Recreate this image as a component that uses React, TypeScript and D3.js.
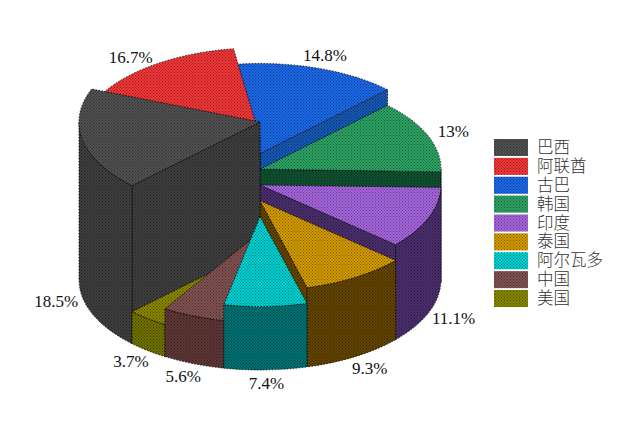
import * as d3 from 'd3';

const countries = ['巴西', '阿联酋', '古巴', '韩国', '印度', '泰国', '阿尔瓦多', '中国', '美国'];
const shares = [18.5, 16.7, 14.8, 13, 11.1, 9.3, 7.4, 5.6, 3.7];
const shareLabels = ['18.5%', '16.7%', '14.8%', '13%', '11.1%', '9.3%', '7.4%', '5.6%', '3.7%'];
const topColors = ['#505050', '#f03636', '#1a68e8', '#2ca262', '#a464dc', '#d09a00', '#00d0d0', '#805050', '#868600'];
const wallColors = ['#3e3e3e', '#902020', '#1458b4', '#0e5030', '#4a2e6c', '#624400', '#007070', '#5e3636', '#707000'];
// back to front
const drawOrder = [2, 1, 3, 4, 5, 0, 8, 7, 6];

const width = 640;
const height = 426;
const cx = 260;
const rx = 181;
const ry = 90;
const baseY = 280;
const deg = Math.PI / 180;

// each slice stands a step higher, going round from the last one to the first
const topY = d3.scalePoint<string>().domain(countries).range([122, 248]);
const legendY = d3.scalePoint<string>().domain(countries).range([139, 290]);

const arcs = d3
  .pie<number>()
  .sort(null)
  .startAngle(-135 * deg)
  .endAngle(225 * deg)(shares);

const px = (a: number) => cx + rx * Math.sin(a);
const py = (a: number, y0: number) => y0 - ry * Math.cos(a);

const topPath = (a0: number, a1: number, y0: number) =>
  `M${cx},${y0}L${px(a0)},${py(a0, y0)}A${rx},${ry} 0 0 1 ${px(a1)},${py(a1, y0)}Z`;

const flatWall = (a: number, y0: number) =>
  `M${cx},${y0}L${px(a)},${py(a, y0)}L${px(a)},${py(a, baseY)}L${cx},${baseY}Z`;

const curvedWall = (a0: number, a1: number, y0: number) =>
  `M${px(a0)},${py(a0, y0)}A${rx},${ry} 0 0 1 ${px(a1)},${py(a1, y0)}` +
  `L${px(a1)},${py(a1, baseY)}A${rx},${ry} 0 0 0 ${px(a0)},${py(a0, baseY)}Z`;

// part of the rim that faces the viewer
const frontRange = (a0: number, a1: number): [number, number] | null => {
  for (const [lo, hi] of [[90 * deg, 270 * deg], [-270 * deg, -90 * deg]]) {
    const s = Math.max(a0, lo);
    const e = Math.min(a1, hi);
    if (e > s) return [s, e];
  }
  return null;
};

const lineStyle = { stroke: '#000', strokeWidth: 1, strokeDasharray: '1.5 1.5', strokeOpacity: 0.8 };

export default function App() {
  return (
    <svg width={width} height={height} style={{ position: 'absolute', left: 0, top: 0, background: '#fff' }}>
      <defs>
        <pattern id="dots" width="3" height="3" patternUnits="userSpaceOnUse">
          <rect x="0" y="0" width="1" height="1" fill="#000" fillOpacity="0.4" />
          <rect x="1.5" y="1.5" width="1" height="1" fill="#000" fillOpacity="0.4" />
        </pattern>
      </defs>

      {drawOrder.map((i) => {
        const { startAngle: a0, endAngle: a1 } = arcs[i];
        const y0 = topY(countries[i]) as number;
        const front = frontRange(a0, a1);
        const walls: string[] = [];
        if (Math.sin(a0) < 0) walls.push(flatWall(a0, y0));
        if (Math.sin(a1) > 0) walls.push(flatWall(a1, y0));
        if (front) walls.push(curvedWall(front[0], front[1], y0));
        const top = topPath(a0, a1, y0);
        return (
          <g key={countries[i]}>
            {walls.map((d, k) => (
              <g key={k}>
                <path d={d} fill={wallColors[i]} {...lineStyle} />
                <path d={d} fill="url(#dots)" />
              </g>
            ))}
            <path d={top} fill={topColors[i]} {...lineStyle} />
            <path d={top} fill="url(#dots)" />
          </g>
        );
      })}

      <g fontFamily="'Liberation Serif', serif" fontSize={17} fill="#111" textAnchor="middle">
        {arcs.map((arc, i) => {
          const mid = (arc.startAngle + arc.endAngle) / 2;
          const y0 = Math.cos(mid) > 0 ? (topY(countries[i]) as number) : baseY;
          return (
            <text key={i} x={cx + 1.15 * rx * Math.sin(mid)} y={y0 - 1.15 * ry * Math.cos(mid)} dy="0.35em">
              {shareLabels[i]}
            </text>
          );
        })}
      </g>

      <g>
        {countries.map((name, i) => {
          const y = legendY(name) as number;
          return (
            <g key={name}>
              <rect x={494} y={y} width={34} height={17} fill={topColors[i]} />
              <rect x={494} y={y} width={34} height={17} fill="url(#dots)" />
              <text x={537} y={y + 14} fontFamily="'Noto Sans CJK SC'" fontSize={16.5} fontWeight={300} fill="#333">
                {name}
              </text>
            </g>
          );
        })}
      </g>
    </svg>
  );
}
